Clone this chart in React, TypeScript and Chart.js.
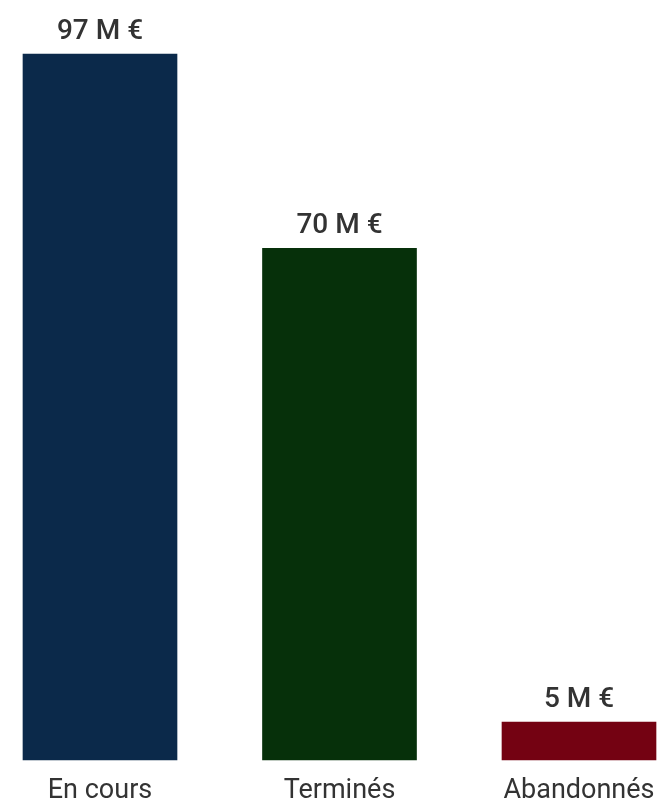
import React, { useEffect, useRef } from "react";
import { Chart, registerables } from "chart.js";

Chart.register(...registerables);

const categories = ["En cours", "Terminés", "Abandonnés"];
const amounts = [97, 70.3, 5.2];
const valueLabels = ["97 M €", "70 M €", "5 M €"];
const barColors = ["#0b294a", "#06300a", "#740212"];

const FONT = "Roboto, 'Noto Sans', sans-serif";

const valueLabelPlugin = {
  id: "valueLabels",
  afterDatasetsDraw(chart: any) {
    const ctx = chart.ctx;
    const meta = chart.getDatasetMeta(0);
    ctx.save();
    ctx.font = `500 28px ${FONT}`;
    ctx.fillStyle = "#333333";
    ctx.textAlign = "center";
    ctx.textBaseline = "alphabetic";
    meta.data.forEach((bar: any, i: number) => {
      ctx.fillText(valueLabels[i], bar.x, bar.y - 15);
    });
    ctx.restore();
  },
};

export default function App() {
  const ref = useRef<HTMLCanvasElement | null>(null);
  useEffect(() => {
    if (!ref.current) return;
    const chart = new Chart(ref.current, {
      type: "bar",
      data: {
        labels: categories,
        datasets: [
          {
            data: amounts,
            backgroundColor: barColors,
            borderWidth: 0,
            barThickness: 154,
            clip: false,
          } as any,
        ],
      },
      options: {
        responsive: false,
        animation: false,
        devicePixelRatio: 1,
        layout: { padding: { top: 54, left: 100, right: 82, bottom: 0 } },
        plugins: {
          legend: { display: false },
          tooltip: { enabled: false },
        },
        scales: {
          x: {
            offset: false,
            grid: { display: false, drawTicks: false },
            border: { display: false },
            afterFit: (scale: any) => {
              scale.height = 49;
              scale.paddingLeft = 0;
              scale.paddingRight = 0;
            },
            ticks: {
              padding: 15,
              color: "#333333",
              font: { family: FONT, size: 27, weight: "normal" as any },
              maxRotation: 0,
              autoSkip: false,
            },
          },
          y: {
            display: false,
            min: 0,
            max: 97,
          },
        },
      },
      plugins: [valueLabelPlugin],
    });
    return () => chart.destroy();
  }, []);
  return (
    <div style={{ position: "absolute", left: 0, top: 0, width: 661, height: 809, background: "#fff" }}>
      <canvas ref={ref} width={661} height={809} style={{ display: "block" }} />
    </div>
  );
}
